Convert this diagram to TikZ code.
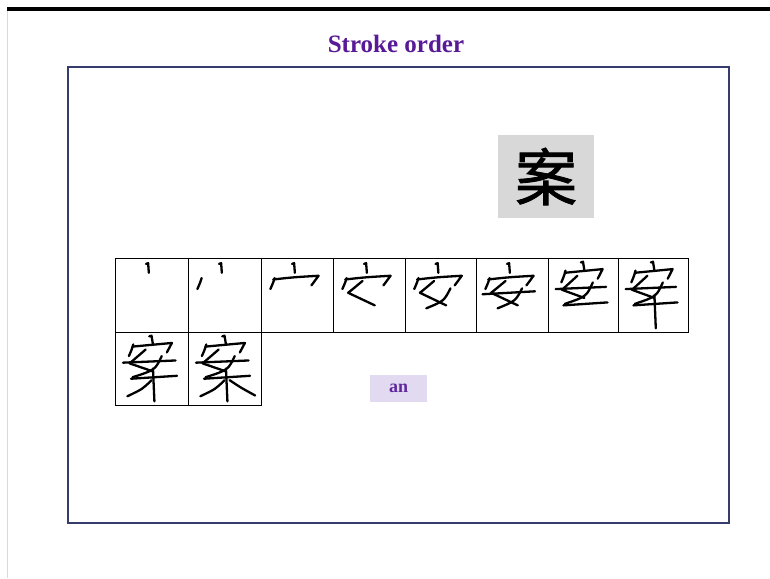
\documentclass[tikz,border=0pt]{standalone}
\usepackage{fontspec}
\setmainfont{Liberation Serif}
\newfontfamily\cjk[FakeBold=1.3]{Noto Sans CJK SC}
\definecolor{titlepurple}{RGB}{88,26,150}
\definecolor{anpurple}{RGB}{96,40,160}
\definecolor{anfill}{RGB}{226,218,240}
\definecolor{kgray}{RGB}{216,216,216}
\definecolor{framecol}{RGB}{55,60,110}
\newcommand\anform[1]{%
  \draw[stk] (0.43,0.08)--(0.46,0.07)--(0.47,0.20);
  \ifnum#1>1 \draw[stk] (0.19,0.27) .. controls (0.17,0.33) .. (0.13,0.42);\fi
  \ifnum#1>2 \draw[stk] (0.17,0.29) .. controls (0.45,0.26) .. (0.80,0.24) -- (0.70,0.37);\fi
  \ifnum#1>3 \draw[stk] (0.41,0.31) .. controls (0.30,0.40) .. (0.21,0.47) .. controls (0.40,0.55) .. (0.58,0.64);\fi
  \ifnum#1>4 \draw[stk] (0.64,0.41) .. controls (0.55,0.58) .. (0.30,0.68);\fi
  \ifnum#1>5 \draw[stk] (0.09,0.49) -- (0.82,0.45);\fi
}
\newcommand\caseform[1]{%
  \draw[stk] (0.47,0.06)--(0.50,0.05)--(0.52,0.17);
  \draw[stk] (0.25,0.17) .. controls (0.23,0.24) .. (0.19,0.33);
  \draw[stk] (0.24,0.20) .. controls (0.50,0.17) .. (0.78,0.15) -- (0.71,0.28);
  \draw[stk] (0.42,0.24) .. controls (0.32,0.34) .. (0.20,0.43) .. controls (0.35,0.48) .. (0.52,0.54);
  \draw[stk] (0.64,0.33) .. controls (0.55,0.52) .. (0.24,0.62);
  \draw[stk] (0.11,0.42) -- (0.83,0.39);
  \draw[stk] (0.22,0.64) -- (0.85,0.60);
  \ifnum#1>7 \draw[stk] (0.52,0.50) -- (0.54,0.95);\fi
  \ifnum#1>8 \draw[stk] (0.50,0.66) .. controls (0.38,0.78) .. (0.17,0.88);\fi
  \ifnum#1>9 \draw[stk] (0.57,0.66) .. controls (0.72,0.76) .. (0.92,0.87);\fi
}
\begin{document}
\begin{tikzpicture}[x=1pt,y=-1pt,
  cell/.style={draw=black, line width=1.4pt, minimum height=74pt, inner sep=0pt, anchor=north west},
  stk/.style={draw=black, line width=2.3pt, line cap=round, line join=round},
  titletext/.style={font=\bfseries\fontsize{25}{28}\selectfont, text=titlepurple},
  framebox/.style={draw=framecol, line width=2pt, minimum width=661pt, minimum height=456pt, inner sep=0pt},
  kanjibox/.style={fill=kgray, minimum width=96pt, minimum height=83pt, inner sep=0pt, font=\cjk\fontsize{62}{62}\selectfont},
  pinbox/.style={fill=anfill, minimum width=57pt, minimum height=27pt, inner sep=0pt, font=\bfseries\fontsize{18}{20}\selectfont, text=anpurple}]
\useasboundingbox (0,0) rectangle (770,578);
\fill[white] (0,0) rectangle (770,578);
\fill[black] (7,7) rectangle (770,11);
\draw[black!15, line width=1pt] (7.5,11) -- (7.5,578);
\node[titletext] (title) at (396,44) {Stroke order};
\node[framebox] (frame) at (398.5,295) {};
\node[kanjibox] (kanji) at (546,176.5) {案};
\node[pinbox] (pinyin) at (398.5,388.5) {an};
\node[cell, minimum width=73pt] (c1) at (115,258) {};
\node[cell, minimum width=73pt] (c2) at (188,258) {};
\node[cell, minimum width=72pt] (c3) at (261,258) {};
\node[cell, minimum width=72pt] (c4) at (333,258) {};
\node[cell, minimum width=71pt] (c5) at (405,258) {};
\node[cell, minimum width=72pt] (c6) at (476,258) {};
\node[cell, minimum width=70pt] (c7) at (548,258) {};
\node[cell, minimum width=70pt] (c8) at (618,258) {};
\node[cell, minimum width=73pt, minimum height=73pt] (c9) at (115,332) {};
\node[cell, minimum width=73pt, minimum height=73pt] (c10) at (188,332) {};
\begin{scope}[shift={(c1.north west)},x=72pt,y=-74pt] \anform{1} \end{scope}
\begin{scope}[shift={(c2.north west)},x=72pt,y=-74pt] \anform{2} \end{scope}
\begin{scope}[shift={(c3.north west)},x=72pt,y=-74pt] \anform{3} \end{scope}
\begin{scope}[shift={(c4.north west)},x=72pt,y=-74pt] \anform{4} \end{scope}
\begin{scope}[shift={(c5.north west)},x=71pt,y=-74pt] \anform{5} \end{scope}
\begin{scope}[shift={(c6.north west)},x=72pt,y=-74pt] \anform{6} \end{scope}
\begin{scope}[shift={(c7.north west)},x=70pt,y=-74pt] \caseform{7} \end{scope}
\begin{scope}[shift={(c8.north west)},x=70pt,y=-74pt] \caseform{8} \end{scope}
\begin{scope}[shift={(c9.north west)},x=73pt,y=-73pt] \caseform{9} \end{scope}
\begin{scope}[shift={(c10.north west)},x=73pt,y=-73pt] \caseform{10} \end{scope}
\end{tikzpicture}
\end{document}
